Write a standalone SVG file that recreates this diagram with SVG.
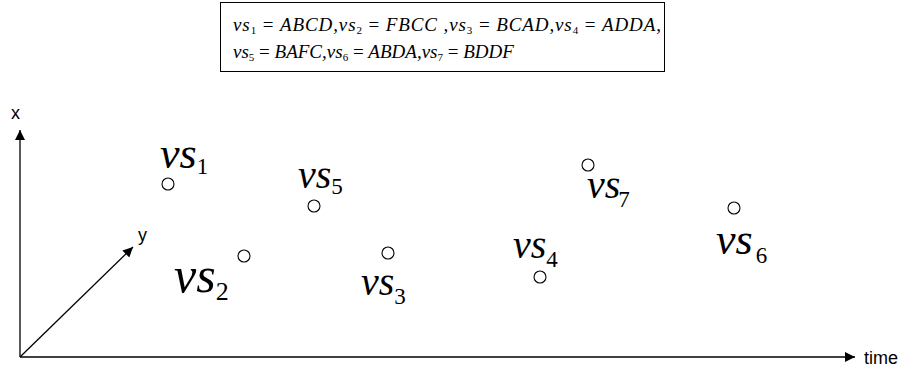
<svg xmlns="http://www.w3.org/2000/svg" width="899" height="369" viewBox="0 0 899 369">
  <style>
    .eq { font-family: "Liberation Serif", "Times New Roman", serif; font-size: 19px; font-style: italic; fill: #000; }
    .eq .n { font-style: normal; }
    .eq .sub { font-style: normal; font-size: 11px; }
    .lbl { font-family: "Liberation Serif", "Times New Roman", serif; font-size: 40px; font-style: italic; fill: #000; }
    .lbl .n { font-style: normal; font-size: 23px; }
    .axis-text { font-family: "Liberation Sans", Arial, sans-serif; font-size: 18px; fill: #000; }
    .pt { fill: #fff; stroke: #000; stroke-width: 1.1; }
    .ax { stroke: #000; stroke-width: 1.3; fill: none; }
  </style>
  <defs>
    <marker id="arrow" viewBox="0 0 10 10" refX="10" refY="5" markerWidth="15" markerHeight="10" markerUnits="userSpaceOnUse" orient="auto">
      <path d="M0,0 L10,5 L0,10 Z" fill="#000"/>
    </marker>
  </defs>
  <rect width="899" height="369" fill="#fff"/>

  <!-- definitions box -->
  <g id="legend">
    <rect x="220.5" y="2.5" width="444" height="69" fill="#fff" stroke="#000" stroke-width="1"/>
    <text class="eq" x="233" y="31" textLength="428" lengthAdjust="spacing">vs<tspan class="sub" dy="3">1</tspan><tspan class="n" dy="-3">  =  </tspan>ABCD,vs<tspan class="sub" dy="3">2</tspan><tspan class="n" dy="-3">  =  </tspan>FBCC ,vs<tspan class="sub" dy="3">3</tspan><tspan class="n" dy="-3">  =  </tspan>BCAD,vs<tspan class="sub" dy="3">4</tspan><tspan class="n" dy="-3">  =  </tspan>ADDA,</text>
    <text class="eq" x="233" y="58">vs<tspan class="sub" dy="3">5</tspan><tspan class="n" dy="-3">  =  </tspan>BAFC,vs<tspan class="sub" dy="3">6</tspan><tspan class="n" dy="-3">  =  </tspan>ABDA,vs<tspan class="sub" dy="3">7</tspan><tspan class="n" dy="-3">  =  </tspan>BDDF</text>
  </g>

  <!-- axes -->
  <g id="axes">
    <line class="ax" x1="20" y1="357" x2="20" y2="130" marker-end="url(#arrow)"/>
    <line class="ax" x1="20" y1="357" x2="855" y2="357" marker-end="url(#arrow)"/>
    <line class="ax" x1="20" y1="357" x2="133" y2="247" marker-end="url(#arrow)"/>
    <text class="axis-text" x="11" y="119">x</text>
    <text class="axis-text" x="138" y="241">y</text>
    <text class="axis-text" x="864" y="364">time</text>
  </g>

  <!-- points -->
  <g id="vs1">
    <circle class="pt" cx="168" cy="184" r="6"/>
    <text class="lbl" x="160" y="168" style="font-size:44px">vs<tspan class="n" dy="6">1</tspan></text>
  </g>
  <g id="vs2">
    <circle class="pt" cx="244" cy="256" r="6"/>
    <text class="lbl" x="174" y="292" style="font-size:50px">vs<tspan class="n" style="font-size:26px" dy="8">2</tspan></text>
  </g>
  <g id="vs3">
    <circle class="pt" cx="388" cy="253" r="6"/>
    <text class="lbl" x="361" y="295">vs<tspan class="n" dy="9">3</tspan></text>
  </g>
  <g id="vs4">
    <circle class="pt" cx="540" cy="277" r="6"/>
    <text class="lbl" x="513" y="258">vs<tspan class="n" dy="9">4</tspan></text>
  </g>
  <g id="vs5">
    <circle class="pt" cx="314" cy="206" r="6"/>
    <text class="lbl" x="298" y="188">vs<tspan class="n" dy="6">5</tspan></text>
  </g>
  <g id="vs6">
    <circle class="pt" cx="734" cy="208" r="6"/>
    <text class="lbl" x="716" y="254" style="font-size:44px">vs<tspan class="n" dx="3" dy="9">6</tspan></text>
  </g>
  <g id="vs7">
    <circle class="pt" cx="588" cy="165" r="6"/>
    <text class="lbl" x="587" y="198">vs<tspan class="n" dx="-2" dy="9">7</tspan></text>
  </g>
</svg>
